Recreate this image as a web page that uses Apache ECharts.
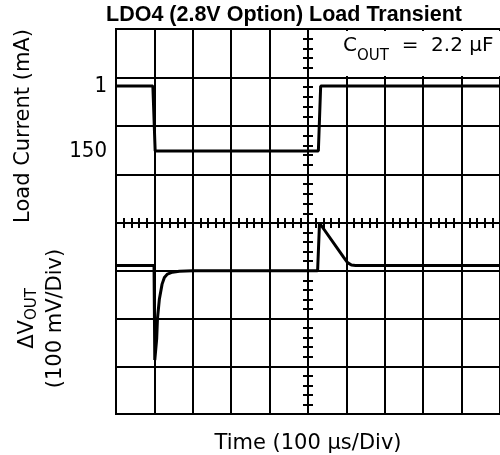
<!DOCTYPE html>
<html>
<head>
<meta charset="utf-8">
<script src="https://cdn.jsdelivr.net/npm/echarts@6/dist/echarts.min.js"></script>
<style>
  html, body { margin: 0; padding: 0; background: #fff; }
  #chart { width: 500px; height: 455px; }
</style>
</head>
<body>
<div id="chart"></div>
<script>
// load current channel (time in us, current in mA)
const loadTime = [-500, -404, -398, 27, 33, 500];
const loadCurrent = [1, 1, 150, 150, 1, 1];
const currentTicks = [1, 150];

// output voltage deviation channel (time in us, mV from screen centre)
const voutTime = [-500, -401, -399, -397, -394, -392, -387, -380, -374, -366, -353, -335, -300, 25, 30, 93, 103, 113, 124, 500];
const voutMv = [-89, -89, -287, -285, -242, -200, -159, -128, -114, -107, -103, -101, -100, -100, 0, -72, -83, -88, -89, -89];

const AXIS_FONT = "'DejaVu Sans', sans-serif";
const LINE = { color: "#000", width: 2 };

// load current axis: 1 mA and 150 mA levels sit 65 px apart on a 194 px tall half
const MA_PER_PX = 149 / 65;
const currentMin = 1 - 57 * MA_PER_PX;
const currentMax = 1 + 137 * MA_PER_PX;

// centre cross-hair axis with minor ticks on one side
function centreX(grid, pos, inside) {
  return {
    type: "value", gridIndex: grid, position: pos, min: -500, max: 500, interval: 100,
    axisLine: { show: true, onZero: false, lineStyle: { color: "#000", width: 2 } },
    axisTick: { show: true, inside: inside, length: 5, lineStyle: LINE },
    minorTick: { show: true, splitNumber: 5, length: 5, lineStyle: LINE },
    axisLabel: { show: false }, splitLine: { show: false },
  };
}
function centreY(grid, xIdx, min, max, inside) {
  return {
    type: "value", gridIndex: grid, min: min, max: max, interval: min === 0 ? 1 : 100,
    axisLine: { show: true, onZero: true, onZeroAxisIndex: xIdx, lineStyle: { color: "#000", width: 2 } },
    axisTick: { show: true, inside: inside, length: 5, lineStyle: LINE },
    minorTick: { show: true, splitNumber: 5, length: 5, lineStyle: LINE },
    axisLabel: { show: false }, splitLine: { show: false },
  };
}
function timeAxis(grid) {
  return {
    type: "value", gridIndex: grid, min: -500, max: 500, interval: 100,
    axisLine: { show: false, onZero: false }, axisTick: { show: false },
    axisLabel: { show: false }, splitLine: { show: true, lineStyle: LINE },
  };
}

const xAxes = [timeAxis(0), timeAxis(1), centreX(1, "top", true), centreX(0, "bottom", true)];
xAxes[1].name = "Time (100 µs/Div)";
xAxes[1].nameLocation = "middle";
xAxes[1].nameGap = 19;
xAxes[1].nameTextStyle = { fontFamily: AXIS_FONT, fontSize: 21, color: "#000" };

const option = {
  animation: false,
  backgroundColor: "#fff",
  title: [
    {
      text: "LDO4 (2.8V Option) Load Transient",
      left: 106, top: 4, padding: 0,
      textStyle: { fontFamily: "'Liberation Sans', Arial, sans-serif", fontWeight: "bold", fontSize: 21.5, color: "#000" },
    },
    {
      text: "{c|C}{sub|OUT}{c|  =  2.2 µF}",
      left: 317, top: 31, padding: [5, 30, 12, 26], backgroundColor: "#fff",
      textStyle: {
        rich: {
          c: { fontFamily: AXIS_FONT, fontSize: 20, fontWeight: "normal", color: "#000", verticalAlign: "top", lineHeight: 28 },
          sub: { fontFamily: AXIS_FONT, fontSize: 15, fontWeight: "normal", color: "#000", verticalAlign: "bottom", lineHeight: 28 },
        },
      },
    },
  ],
  grid: [
    { left: 116, top: 29, width: 388, height: 194, show: true, borderColor: "#000", borderWidth: 2 },
    { left: 116, top: 223, width: 388, height: 193, show: true, borderColor: "#000", borderWidth: 2 },
  ],
  xAxis: xAxes,
  yAxis: [
    {
      type: "value", gridIndex: 0, inverse: true, min: currentMin, max: currentMax,
      axisLine: { show: false, onZero: false }, axisTick: { show: false }, splitLine: { show: false },
      axisLabel: { customValues: currentTicks, margin: 9, fontFamily: "'Liberation Sans Narrow', 'DejaVu Sans Condensed', sans-serif", fontSize: 22, color: "#000" },
      name: "Load Current (mA)", nameLocation: "middle", nameRotate: 90, nameGap: 82,
      nameTextStyle: { fontFamily: AXIS_FONT, fontSize: 21, color: "#000" },
    },
    {
      type: "value", gridIndex: 0, min: 0, max: 4, interval: 1,
      axisLine: { show: false, onZero: false }, axisTick: { show: false }, axisLabel: { show: false },
      splitLine: { show: true, lineStyle: LINE },
    },
    {
      type: "value", gridIndex: 1, min: -400, max: 0, interval: 100,
      axisLine: { show: false, onZero: false }, axisTick: { show: false }, axisLabel: { show: false },
      splitLine: { show: true, lineStyle: LINE },
      name: "ΔV{sub|OUT}\n(100 mV/Div)", nameLocation: "middle", nameRotate: 90, nameGap: 46,
      nameTextStyle: {
        fontFamily: AXIS_FONT, fontSize: 21, color: "#000", lineHeight: 28,
        rich: { sub: { fontFamily: AXIS_FONT, fontSize: 15, color: "#000", padding: [8, 0, 0, 0] } },
      },
    },
    centreY(0, 0, 0, 4, true),
    centreY(0, 0, 0, 4, false),
    centreY(1, 1, -400, 0, true),
    centreY(1, 1, -400, 0, false),
  ],
  series: [
    {
      name: "Load Current", type: "line", xAxisIndex: 0, yAxisIndex: 0,
      data: loadTime.map((t, i) => [t, loadCurrent[i]]),
      symbol: "none", lineStyle: { color: "#000", width: 3 }, z: 5,
    },
    {
      name: "ΔVOUT", type: "line", xAxisIndex: 1, yAxisIndex: 2, clip: false,
      data: voutTime.map((t, i) => [t, voutMv[i]]),
      symbol: "none", lineStyle: { color: "#000", width: 3 }, z: 5,
    },
  ],
};

const chart = echarts.init(document.getElementById("chart"));
chart.setOption(option);
</script>
</body>
</html>
